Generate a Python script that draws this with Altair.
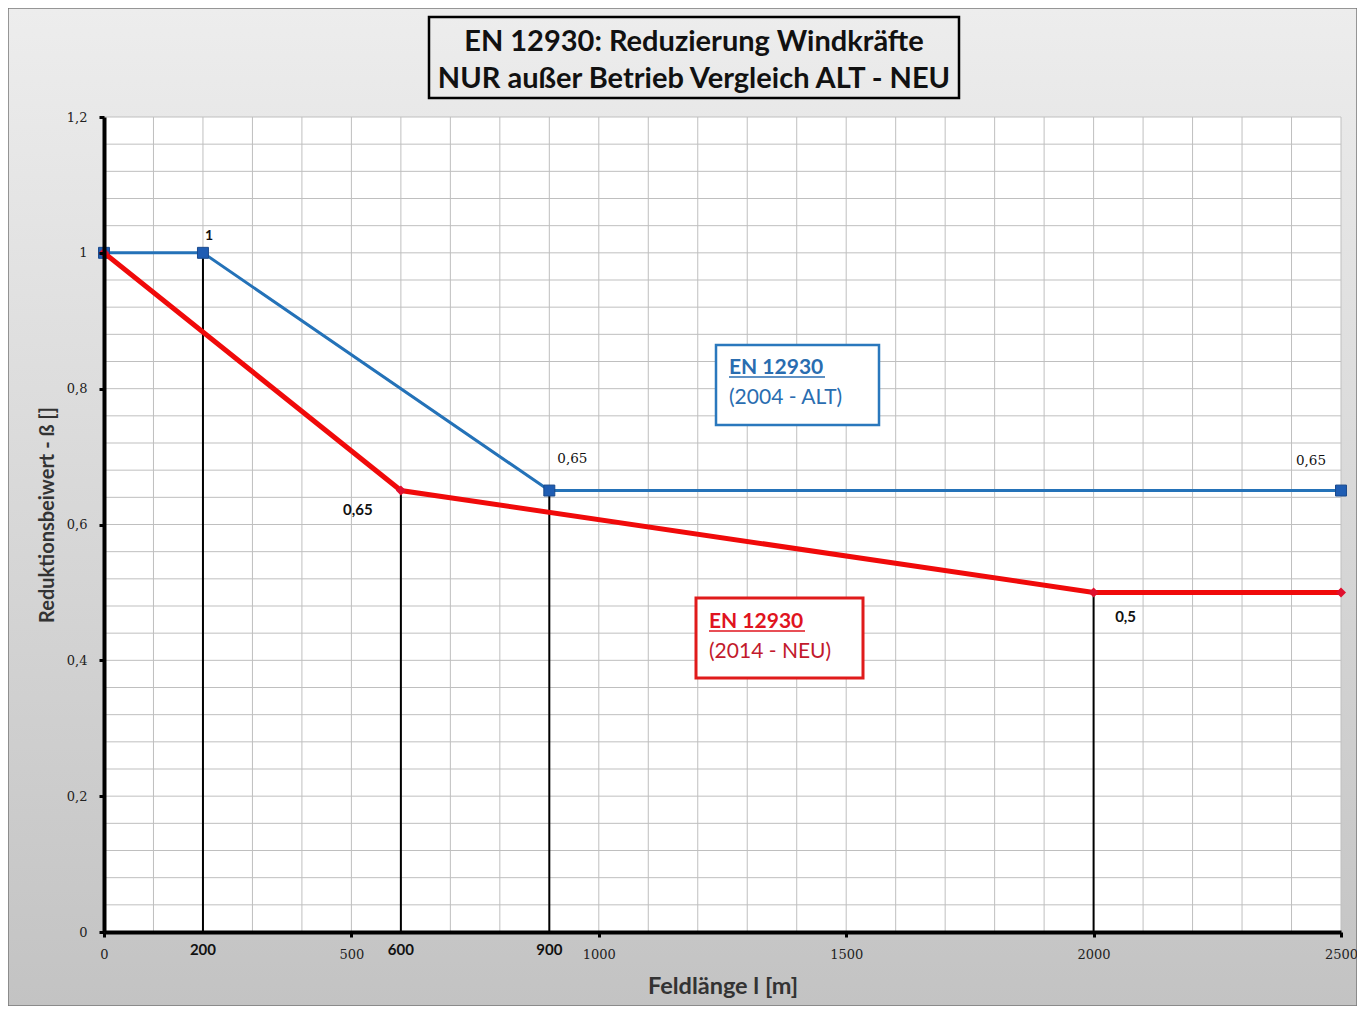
import altair as alt
import pandas as pd

# ---- data ----
ALT_X = [0, 200, 900, 2500]
ALT_Y = [1.0, 1.0, 0.65, 0.65]
NEU_X = [0, 600, 2000, 2500]
NEU_Y = [1.0, 0.65, 0.5, 0.5]
DROP_X = [200, 600, 900, 2000]
DROP_Y = [1.0, 0.65, 0.65, 0.5]
X_TICKS = [0, 500, 1000, 1500, 2000, 2500]
X_EXTRA = [200, 600, 900]
Y_TICKS = [0, 0.2, 0.4, 0.6, 0.8, 1.0, 1.2]
X_GRID = list(range(0, 2501, 100))
Y_GRID = [round(i * 0.04, 2) for i in range(31)]

TITLE_LINES = ["EN 12930: Reduzierung Windkräfte", "NUR außer Betrieb Vergleich ALT - NEU"]
X_TITLE = "Feldlänge l [m]"
Y_TITLE = "Reduktionsbeiwert - ß []"
LEG_ALT = ["EN 12930", "(2004 - ALT)"]
LEG_NEU = ["EN 12930", "(2014 - NEU)"]

W, H = 1237, 815
LP, TP, RP, BP = 96, 109, 16, 74
BLUE = "#2472b8"
RED = "#f00a0a"

def lab(v):
    return f"{v:g}".replace(".", ",")

xs = alt.Scale(domain=[0, 2500], nice=False, zero=False)
ys = alt.Scale(domain=[0, 1.2], nice=False, zero=False)

xaxis = alt.Axis(values=X_TICKS, format="d", grid=False, domainColor="black", domainWidth=4,
                 tickColor="black", tickWidth=3, tickSize=5, labelFont="DejaVu Serif",
                 labelFontSize=13, labelColor="#222222", labelPadding=17, labelBaseline="middle",
                 labelFlush=False, labelOverlap=False, title=X_TITLE, titleFont="Lato",
                 titleFontSize=23.5, titleFontWeight="bold", titleColor="#333333",
                 titleX=W / 2, titleY=61, titleBaseline="alphabetic", zindex=1)
yaxis = alt.Axis(values=Y_TICKS, grid=False, domainColor="black", domainWidth=4,
                 tickColor="black", tickWidth=3, tickSize=5, labelFont="DejaVu Serif",
                 labelFontSize=13, labelColor="#222222", labelPadding=12,
                 labelExpr="replace(format(datum.value, '~g'), '.', ',')",
                 labelFlush=False, title=Y_TITLE, titleFont="Lato", titleFontSize=20,
                 titleFontWeight="bold", titleColor="#333333", titleX=-57, titleY=H / 2 - 10,
                 titleAngle=-90, titleBaseline="middle", titleAlign="center", zindex=1)

def X(f="x"):
    return alt.X(f"{f}:Q", scale=xs, axis=xaxis)

def Y(f="y"):
    return alt.Y(f"{f}:Q", scale=ys, axis=yaxis)

one = alt.Data(values=[{"a": 1}])

grad = alt.LinearGradient(gradient="linear",
                          stops=[alt.GradientStop(color="#ededed", offset=0),
                                 alt.GradientStop(color="#c3c3c3", offset=1)],
                          x1=0, x2=0, y1=0, y2=1)

bg = alt.Chart(one).mark_rect(color=grad, stroke="#7a7a7a", strokeWidth=1.5).encode(
    x=alt.value(-LP), x2=alt.value(W + RP), y=alt.value(-TP), y2=alt.value(H + BP))
plotbg = alt.Chart(one).mark_rect(fill="white").encode(
    x=alt.value(0), x2=alt.value(W), y=alt.value(0), y2=alt.value(H))

gx = alt.Chart(pd.DataFrame({"x": X_GRID})).mark_rule(color="#bfbfbf", strokeWidth=1).encode(x=X())
gy = alt.Chart(pd.DataFrame({"y": Y_GRID})).mark_rule(color="#bfbfbf", strokeWidth=1).encode(y=Y())

drops = alt.Chart(pd.DataFrame({"x": DROP_X, "y": DROP_Y})).mark_rule(
    color="black", strokeWidth=2).encode(x=X(), y=Y(), y2=alt.datum(0))

alt_df = pd.DataFrame({"x": ALT_X, "y": ALT_Y})
neu_df = pd.DataFrame({"x": NEU_X, "y": NEU_Y})

alt_line = alt.Chart(alt_df).mark_line(color=BLUE, strokeWidth=3).encode(x=X(), y=Y())
alt_pts = alt.Chart(alt_df).mark_point(shape="square", filled=True, size=120, fill="#1f5db3",
                                       stroke="#1a4a8c", strokeWidth=1, opacity=1).encode(x=X(), y=Y())
neu_line = alt.Chart(neu_df).mark_line(color=RED, strokeWidth=5).encode(x=X(), y=Y())
neu_pts = alt.Chart(neu_df).mark_point(shape="diamond", filled=True, size=100, fill="#e0102e",
                                       opacity=1).encode(x=X(), y=Y())

def vlabel(xv, yv, dx, dy, font, weight, size):
    d = pd.DataFrame({"x": [xv], "y": [yv], "t": [lab(yv)]})
    return alt.Chart(d).mark_text(dx=dx, dy=dy, font=font, fontWeight=weight, fontSize=size,
                                  color="#111111", align="center", baseline="middle").encode(
        x=X(), y=Y(), text="t:N")

labels = [
    vlabel(ALT_X[1], ALT_Y[1], 6, -17, "Lato", "bold", 14),
    vlabel(ALT_X[2], ALT_Y[2], 23, -32, "DejaVu Serif", "normal", 13.5),
    vlabel(ALT_X[3], ALT_Y[3], -30, -30, "DejaVu Serif", "normal", 13.5),
    vlabel(NEU_X[1], NEU_Y[1], -43, 19, "Lato", "bold", 15),
    vlabel(NEU_X[2], NEU_Y[2], 32, 25, "Lato", "bold", 15),
]

xextra = alt.Chart(pd.DataFrame({"x": X_EXTRA, "t": [str(v) for v in X_EXTRA]})).mark_text(
    font="Lato", fontWeight="bold", fontSize=15, color="#111111", dy=18,
    align="center", baseline="middle").encode(x=X(), y=alt.value(H), text="t:N")

def box(x1, x2, y1, y2, stroke, sw, fill="white"):
    return alt.Chart(one).mark_rect(fill=fill, stroke=stroke, strokeWidth=sw).encode(
        x=alt.value(x1), x2=alt.value(x2), y=alt.value(y1), y2=alt.value(y2))

def txt(s, x, y, color, size, weight="normal", align="left"):
    return alt.Chart(alt.Data(values=[{"t": s}])).mark_text(
        font="Lato", fontSize=size, fontWeight=weight, color=color, align=align,
        baseline="alphabetic").encode(x=alt.value(x), y=alt.value(y), text="t:N")

def uline(x1, x2, y, color):
    return alt.Chart(one).mark_rule(color=color, strokeWidth=1.5).encode(
        x=alt.value(x1), x2=alt.value(x2), y=alt.value(y))

# positions relative to plot origin (x=LP+8, y=TP+8 on the page)
dx0 = 105 - (LP + 8)
legend_alt = [box(611 + dx0, 774 + dx0, 228, 308, "#2a78bd", 2.5),
              txt(LEG_ALT[0], 624 + dx0, 257, "#2a6db0", 21, "bold"),
              uline(624 + dx0, 720 + dx0, 260, "#2a6db0"),
              txt(LEG_ALT[1], 624 + dx0, 287, "#2a6db0", 21)]
legend_neu = [box(591 + dx0, 758 + dx0, 481, 561, "#e01b1b", 3),
              txt(LEG_NEU[0], 604 + dx0, 511, "#e0141e", 21, "bold"),
              uline(604 + dx0, 700 + dx0, 514, "#e0141e"),
              txt(LEG_NEU[1], 604 + dx0, 541, "#c21a2c", 21)]

title = [box(324 + dx0, 854 + dx0, -100, -19, "black", 2.5, fill="transparent"),
         txt(TITLE_LINES[0], 589 + dx0, -66, "#111111", 29, "bold", "center"),
         txt(TITLE_LINES[1], 589 + dx0, -29, "#111111", 29, "bold", "center")]

chart = alt.layer(
    bg, plotbg, gx, gy, drops, alt_line, alt_pts, neu_line, neu_pts,
    *labels, xextra, *legend_alt, *legend_neu, *title
).properties(
    width=W, height=H, padding={"left": LP, "top": TP, "right": RP, "bottom": BP},
    autosize=alt.AutoSizeParams(type="none")
).configure_view(stroke=None).configure(background="#d6d6d6")

chart.save("out.html", embed_options={"renderer": "svg", "actions": False})
